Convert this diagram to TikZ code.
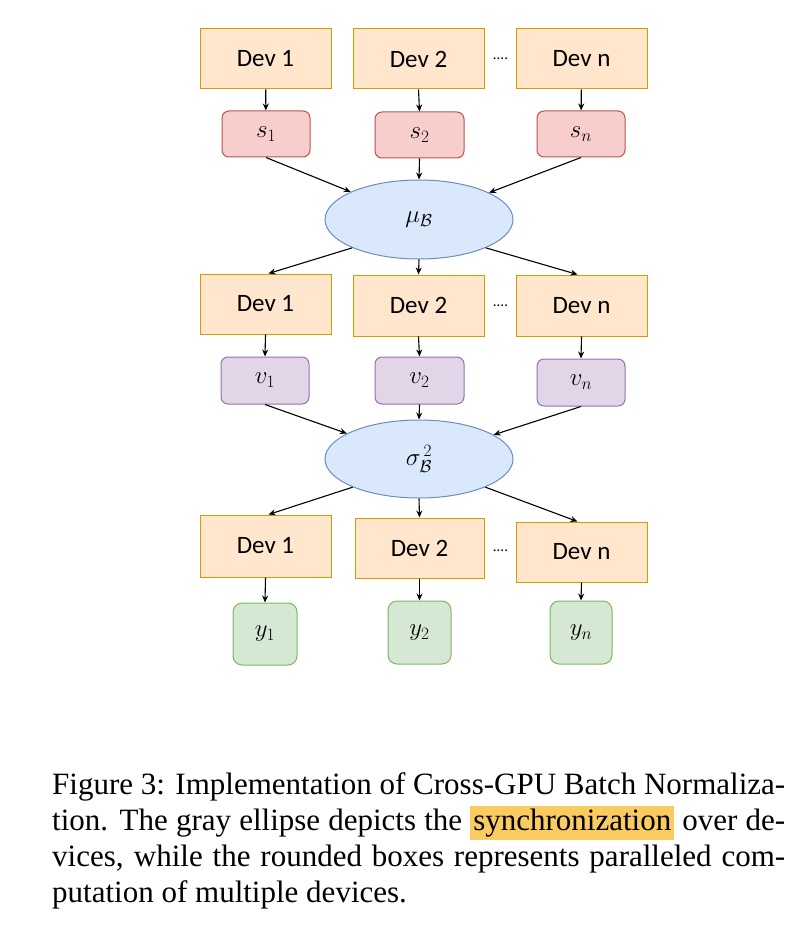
\documentclass[tikz,border=0pt]{standalone}
\usepackage{xcolor}
\usepackage{amsmath}
\usepackage{amssymb}
\usepackage{fontspec}
\usepackage{tikz}
\usetikzlibrary{shapes.geometric, arrows.meta, positioning, calc}

\newfontfamily\devfont{Carlito}
\newfontfamily\capfont{Liberation Serif}

\definecolor{devfill}{HTML}{FFE6CC}
\definecolor{devline}{HTML}{D79B00}
\definecolor{sfill}{HTML}{F8CECC}
\definecolor{sline}{HTML}{B85450}
\definecolor{vfill}{HTML}{E1D5E7}
\definecolor{vline}{HTML}{9673A6}
\definecolor{yfill}{HTML}{D5E8D4}
\definecolor{yline}{HTML}{82B366}
\definecolor{syncfill}{HTML}{DAE8FC}
\definecolor{syncline}{HTML}{6C8EBF}
\definecolor{hilite}{HTML}{F9CB60}

\begin{document}
\begin{tikzpicture}[
    x=1pt, y=-1pt,
    every node/.style={font=\fontsize{26}{30}\selectfont},
    dev/.style={rectangle, draw=devline, fill=devfill, line width=1pt, minimum width=131pt, minimum height=60pt, inner sep=0pt, font=\devfont\fontsize{25}{29}\selectfont},
    stat/.style={rectangle, rounded corners=7pt, line width=1pt, minimum width=88pt, minimum height=46pt, inner sep=0pt},
    outbox/.style={rectangle, rounded corners=9pt, draw=yline, fill=yfill, line width=1pt, minimum width=63pt, minimum height=62pt, inner sep=0pt},
    sync/.style={ellipse, draw=syncline, fill=syncfill, line width=1pt, minimum width=188pt, minimum height=79pt, inner sep=0pt},
    dots/.style={inner sep=0pt, font=\devfont\fontsize{15}{15}\selectfont},
    caption/.style={anchor=base west, inner sep=0pt, font=\capfont\fontsize{31}{37}\selectfont},
    arrow/.style={-{Stealth[length=7pt,width=6pt]}, line width=1.1pt}
]
    \useasboundingbox (0,0) rectangle (798,936);

    % first pass: mean
    \node[dev] (devA1) at (265.5,59) {Dev 1};
    \node[dev] (devA2) at (418.5,59) {Dev 2};
    \node[dev] (devAn) at (581.5,59) {Dev n};
    \node[dots] (dotsA) at (500.5,59) {....};
    \node[stat, draw=sline, fill=sfill] (s1) at (266,134) {$s_1$};
    \node[stat, draw=sline, fill=sfill, minimum width=89pt] (s2) at (419.5,135) {$s_2$};
    \node[stat, draw=sline, fill=sfill] (sn) at (581,134) {$s_n$};
    \node[sync] (mu) at (419,219.5) {$\mu_{\mathcal{B}}$};

    % second pass: variance
    \node[dev] (devB1) at (265.5,304) {Dev 1};
    \node[dev, minimum height=61pt] (devB2) at (418.5,305.5) {Dev 2};
    \node[dev, minimum height=61pt] (devBn) at (581.5,305.5) {Dev n};
    \node[dots] (dotsB) at (500.5,306) {....};
    \node[stat, draw=vline, fill=vfill, minimum height=47pt] (v1) at (265,380.5) {$v_1$};
    \node[stat, draw=vline, fill=vfill, minimum width=89pt, minimum height=47pt] (v2) at (419.5,380.5) {$v_2$};
    \node[stat, draw=vline, fill=vfill, minimum height=47pt] (vn) at (581,382.5) {$v_n$};
    \node[sync, minimum height=78pt] (sigma) at (419,459) {$\sigma_{\mathcal{B}}^{\,2}$};

    % third pass: output
    \node[dev, minimum height=62pt] (devC1) at (265.5,546) {Dev 1};
    \node[dev, minimum width=129pt] (devC2) at (419.5,548) {Dev 2};
    \node[dev] (devCn) at (581.5,552) {Dev n};
    \node[dots] (dotsC) at (500.5,551) {....};
    \node[outbox, minimum width=64pt] (y1) at (265,634) {$y_1$};
    \node[outbox, minimum height=63pt] (y2) at (419.5,632.5) {$y_2$};
    \node[outbox, minimum width=62pt, minimum height=63pt] (yn) at (581,632.5) {$y_n$};

    \draw[arrow] (devA1) -- (s1);
    \draw[arrow] (devA2.south) -- (s2.north);
    \draw[arrow] (devAn) -- (sn);
    \draw[arrow] (s1.south) -- (mu);
    \draw[arrow] (s2.south) -- (mu.north);
    \draw[arrow] (sn.south) -- (mu);
    \draw[arrow] (mu.203) -- ([xshift=3pt]devB1.north);
    \draw[arrow] (mu.south) -- (devB2.north);
    \draw[arrow] (mu.337) -- ([xshift=-4pt]devBn.north);

    \draw[arrow] (devB1.south) -- (v1.north);
    \draw[arrow] (devB2.south) -- (v2.north);
    \draw[arrow] (devBn.south) -- (vn.north);
    \draw[arrow] (v1.south) -- (sigma);
    \draw[arrow] (v2.south) -- (sigma.north);
    \draw[arrow] (vn.south) -- (sigma);
    \draw[arrow] (sigma.203) -- ([xshift=3pt]devC1.north);
    \draw[arrow] (sigma.south) -- (devC2.north);
    \draw[arrow] (sigma.337) -- ([xshift=-4pt]devCn.north);

    \draw[arrow] (devC1.south) -- (y1.north);
    \draw[arrow] (devC2.south) -- (y2.north);
    \draw[arrow] (devCn.south) -- (yn.north);

    % caption
    \setlength{\fboxsep}{3pt}
    \node[caption] (cap1) at (52,794) {\makebox[733pt][s]{Figure 3: Implementation of Cross-GPU Batch Normaliza-}};
    \node[caption] (cap2) at (52,830.3) {\makebox[733pt][s]{tion. The gray ellipse depicts the \colorbox{hilite}{synchronization} over de-}};
    \node[caption] (cap3) at (52,866.6) {\makebox[733pt][s]{vices, while the rounded boxes represents paralleled com-}};
    \node[caption] (cap4) at (52,902.9) {putation of multiple devices.};
\end{tikzpicture}
\end{document}
